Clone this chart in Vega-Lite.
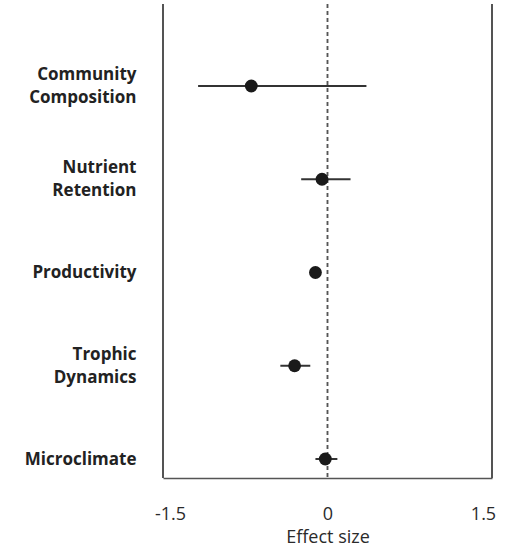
{
  "$schema": "https://vega.github.io/schema/vega-lite/v6.json",
  "width": 329,
  "height": 474,
  "autosize": "none",
  "padding": {"left": 163, "top": 4, "right": 22, "bottom": 72},
  "background": "white",
  "config": {"view": {"stroke": null}, "font": "Open Sans"},
  "data": {
    "values": [
      {"outcome": "Community Composition", "effect": -0.695, "lo": -1.18, "hi": 0.355},
      {"outcome": "Nutrient Retention", "effect": -0.05, "lo": -0.24, "hi": 0.21},
      {"outcome": "Productivity", "effect": -0.11, "lo": -0.11, "hi": -0.11},
      {"outcome": "Trophic Dynamics", "effect": -0.30, "lo": -0.43, "hi": -0.157},
      {"outcome": "Microclimate", "effect": -0.02, "lo": -0.11, "hi": 0.09}
    ]
  },
  "layer": [
    {
      "mark": {"type": "rule", "color": "#555", "strokeWidth": 1.5},
      "encoding": {"x": {"datum": -1.5, "type": "quantitative"}}
    },
    {
      "mark": {"type": "rule", "color": "#555", "strokeWidth": 1.5},
      "encoding": {"x": {"datum": 1.5, "type": "quantitative"}}
    },
    {
      "mark": {"type": "rule", "color": "#555", "strokeWidth": 1.2, "strokeDash": [4, 3]},
      "encoding": {"x": {"datum": 0, "type": "quantitative"}}
    },
    {
      "mark": {"type": "rule", "color": "#333", "strokeWidth": 2},
      "encoding": {
        "x": {"field": "lo", "type": "quantitative"},
        "x2": {"field": "hi"},
        "y": {"field": "outcome", "type": "nominal", "sort": null}
      }
    },
    {
      "mark": {"type": "point", "filled": true, "color": "#1a1a1a", "size": 165, "opacity": 1},
      "encoding": {
        "x": {
          "field": "effect",
          "type": "quantitative",
          "scale": {"domain": [-1.5, 1.5], "nice": false, "zero": false},
          "axis": {
            "values": [-1.5, 0, 1.5],
            "labelExpr": "toString(datum.value)",
            "labelFlush": false,
            "domain": true,
            "domainColor": "#555",
            "domainWidth": 1.5,
            "ticks": false,
            "grid": false,
            "labelFontSize": 18,
            "labelColor": "#2a2a2a",
            "labelPadding": 27,
            "labelOffset": {"condition": [{"test": "datum.value < 0", "value": 7}, {"test": "datum.value > 0", "value": -9}], "value": 0},
            "title": "Effect size",
            "titleFontSize": 18,
            "titleFontWeight": "normal",
            "titleColor": "#2a2a2a",
            "titlePadding": 5
          }
        },
        "y": {
          "field": "outcome",
          "type": "nominal",
          "sort": null,
          "scale": {"type": "point", "range": [82, 455], "padding": 0},
          "axis": {
            "domain": false,
            "ticks": false,
            "grid": false,
            "title": null,
            "labelExpr": "split(datum.label, ' ')",
            "labelFontSize": 17,
            "labelFontWeight": "bold",
            "labelColor": "#222",
            "labelLineHeight": 23,
            "labelPadding": 27,
            "labelLimit": 200,
            "labelOffset": {"condition": {"test": "indexof(datum.label, ' ') >= 0", "value": -11.5}, "value": 0}
          }
        }
      }
    }
  ]
}
